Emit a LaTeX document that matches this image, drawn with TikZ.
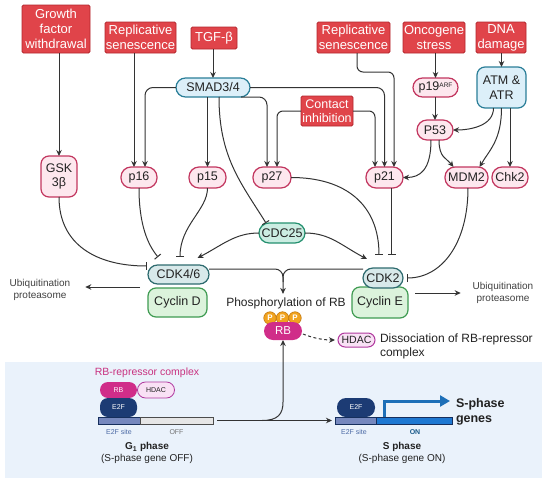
\documentclass[tikz,border=0pt]{standalone}
\usepackage{fontspec}
\setmainfont{Liberation Sans}
\usetikzlibrary{arrows.meta}
\definecolor{redF}{HTML}{E0444A}
\definecolor{redB}{HTML}{B3262D}
\definecolor{pinkF}{HTML}{FDE7EE}
\definecolor{pinkB}{HTML}{C2365F}
\definecolor{blueF}{HTML}{DCEFF9}
\definecolor{blueB}{HTML}{2A7E98}
\definecolor{tealF}{HTML}{CBEDE2}
\definecolor{tealB}{HTML}{24906F}
\definecolor{cdkF}{HTML}{D8E9EA}
\definecolor{cdkB}{HTML}{2E6B6F}
\definecolor{cycF}{HTML}{DCF3DC}
\definecolor{cycB}{HTML}{3F9B52}
\definecolor{rbF}{HTML}{D02D89}
\definecolor{pF}{HTML}{F1A31F}
\definecolor{pB}{HTML}{C27810}
\definecolor{hdF}{HTML}{F9E1F5}
\definecolor{hdB}{HTML}{B0399E}
\definecolor{navy}{HTML}{1C3B74}
\definecolor{panel}{HTML}{EAF2FB}
\definecolor{siteF}{HTML}{7688BE}
\definecolor{offF}{HTML}{E6E6E6}
\definecolor{onF}{HTML}{1E78D2}
\definecolor{bentC}{HTML}{1D6FB8}
\definecolor{conC}{HTML}{333333}
\definecolor{txt}{HTML}{222222}
\definecolor{magT}{HTML}{C8317F}
\definecolor{siteT}{HTML}{4C6AA5}
\definecolor{onT}{HTML}{1A5A8A}
\tikzset{
  lab/.style={font=\fontsize{12.5}{14.5}\selectfont, text=txt},
  redbox/.style={draw=redB, fill=redF, text=white, rounded corners=1.5pt, line width=0.9pt, align=center, font=\fontsize{13}{15}\selectfont},
  pinkn/.style={lab, draw=pinkB, fill=pinkF, line width=1.2pt, align=center},
  bluen/.style={lab, draw=blueB, fill=blueF, line width=1.2pt, align=center},
  tealn/.style={lab, draw=tealB, fill=tealF, line width=1.2pt},
  cdkn/.style={lab, draw=cdkB, fill=cdkF, line width=1.2pt},
  cycn/.style={lab, draw=cycB, fill=cycF, line width=1.2pt},
  con/.style={draw=conC, line width=1pt},
  arr/.style={con, -{Stealth[length=6pt,width=5.5pt]}},
  inh/.style={con, -{Bar[width=8pt]}},
  ubt/.style={align=center, font=\fontsize{10}{11.5}\selectfont, text=black!75},
  pcirc/.style={circle, minimum size=12.5pt, fill=pF, draw=pB, line width=0.6pt, text=white, font=\bfseries\fontsize{8}{8}\selectfont},
  smallt/.style={font=\fontsize{7}{8}\selectfont},
  dnabar/.style={draw=navy!80!black, line width=0.6pt, minimum height=7pt},
  e2fn/.style={fill=navy, text=white, font=\fontsize{7}{8}\selectfont}
}
\begin{document}
\begin{tikzpicture}[x=1pt,y=-1pt, every node/.append style={inner sep=0pt,outer sep=0pt}]
\useasboundingbox (0,0) rectangle (550,485);
\fill[panel] (5,362) rectangle (542,478);

% stimulus boxes
\node[redbox, minimum width=68, minimum height=48] (gfw) at (56,29) {Growth\\factor\\withdrawal};
\node[redbox, minimum width=71, minimum height=31] (rs1) at (140.5,37.5) {Replicative\\senescence};
\node[redbox, minimum width=46, minimum height=22] (tgf) at (214,38) {TGF-β};
\node[redbox, minimum width=73, minimum height=31] (rs2) at (353.5,37.5) {Replicative\\senescence};
\node[redbox, minimum width=62, minimum height=31] (onc) at (434,37.5) {Oncogene\\stress};
\node[redbox, minimum width=50, minimum height=31] (dna) at (501,37.5) {DNA\\damage};
\node[redbox, minimum width=52, minimum height=30, font=\fontsize{12.5}{14}\selectfont] (ci) at (327,111) {Contact\\inhibition};

% signalling nodes
\node[bluen, rounded corners=9.5, minimum width=74, minimum height=19] (smad) at (213,87.5) {SMAD3/4};
\node[bluen, rounded corners=8, minimum width=49, minimum height=41] (atm) at (501.5,87.5) {ATM \&\\ATR};
\node[pinkn, rounded corners=9.5, minimum width=45, minimum height=19] (p19) at (435.5,87.5) {p19\raisebox{3.5pt}{\fontsize{6.5}{7}\selectfont ARF}};
\node[pinkn, rounded corners=10, minimum width=36, minimum height=20] (p53) at (435,130) {P53};
\node[pinkn, rounded corners=8, minimum width=36, minimum height=41] (gsk) at (59,176.5) {GSK\\3β};
\node[pinkn, rounded corners=10, minimum width=36, minimum height=21] (p16) at (139,177.5) {p16};
\node[pinkn, rounded corners=10, minimum width=37, minimum height=21] (p15) at (207.5,177.5) {p15};
\node[pinkn, rounded corners=10, minimum width=38, minimum height=21] (p27) at (272,177.5) {p27};
\node[pinkn, rounded corners=10, minimum width=37, minimum height=21] (p21) at (384.5,177.5) {p21};
\node[pinkn, rounded corners=10, minimum width=43, minimum height=21] (mdm2) at (466.5,177.5) {MDM2};
\node[pinkn, rounded corners=10, minimum width=36, minimum height=21] (chk2) at (510,177.5) {Chk2};
\node[tealn, rounded corners=10, minimum width=46, minimum height=20] (cdc25) at (282,233) {CDC25};

% CDK / cyclin complexes
\node[cycn, rounded corners=8, minimum width=59, minimum height=29] (cycd) at (177.5,302.5) {Cyclin D};
\node[cdkn, rounded corners=9.5, minimum width=61, minimum height=19] (cdk46) at (178.5,274.5) {CDK4/6};
\node[cycn, rounded corners=8, minimum width=56, minimum height=31] (cyce) at (380,302.5) {Cyclin E};
\node[cdkn, rounded corners=10, minimum width=40, minimum height=20] (cdk2) at (383,278) {CDK2};

\node[ubt] (ub1) at (40,290) {Ubiquitination\\proteasome};
\node[ubt] (ub2) at (503,293) {Ubiquitination\\proteasome};

\node[lab, font=\fontsize{12}{14}\selectfont] (phos) at (286,303.5) {Phosphorylation of RB};
\node[pcirc] (pP1) at (270,318) {P};
\node[pcirc] (pP2) at (282.5,318) {P};
\node[pcirc] (pP3) at (295,318) {P};
\node[fill=rbF, rounded corners=9, minimum width=38, minimum height=18, text=white, font=\fontsize{11.5}{12}\selectfont] (rb) at (283,331) {RB};
\node[draw=hdB, fill=hdF, line width=1pt, rounded corners=7, minimum width=37, minimum height=14, font=\fontsize{10.5}{11}\selectfont, text=txt] (hdac) at (356.5,340) {HDAC};
\node[anchor=north west, align=left, font=\fontsize{12}{14}\selectfont, text=txt] (dis) at (380,334) {Dissociation of RB-repressor\\complex};

% connectors: top
\draw[arr] (gsk.north |- gfw.south) -- (gsk.north);
\draw[arr] ([xshift=-5]p16.north |- rs1.south) -- ([xshift=-5]p16.north);
\draw[arr] (smad.north |- tgf.south) -- (smad.north);
\draw[arr, rounded corners=8] (smad.west) -| ([xshift=6]p16.north);
\draw[arr] (p15.north |- smad.south) -- (p15.north);
\draw[inh] ([xshift=6]smad.south) .. controls +(0,60) and +(-25,-40) .. ([xshift=-16]cdc25.north);
\draw[arr, rounded corners=8] ([xshift=28]smad.south) -| ([xshift=-5]p27.north);
\draw[arr, rounded corners=8] (smad.east) -| (p21.north);
\draw[arr, rounded corners=6] ([xshift=3.5]rs2.south) -- ++(0,19) -| ([xshift=9.5]p21.north);
\draw[arr, rounded corners=6] (ci.west) -| ([xshift=5]p27.north);
\draw[arr, rounded corners=6] (ci.east) -| ([xshift=-9.5]p21.north);
\draw[arr] (p19.north |- onc.south) -- (p19.north);
\draw[arr] (atm.north |- dna.south) -- (atm.north);
\draw[arr] (p53.north |- p19.south) -- (p53.north);
\draw[arr] ([xshift=-8]atm.south) .. controls +(0,18) and +(17,0) .. (p53.east);
\draw[arr] (atm.south) .. controls +(0,32) and +(10,-17) .. ([xshift=13]mdm2.north);
\draw[arr] (chk2.north |- atm.south) -- (chk2.north);
\draw[arr] ([xshift=-4]p53.south) .. controls +(0,30) and +(17,0) .. (p21.east);
\draw[arr] ([xshift=4]p53.south) .. controls +(0,18) and +(-7,-9) .. ([xshift=-13]mdm2.north);

% connectors: onto CDKs
\draw[inh] (gsk.south) .. controls +(0,48) and +(-50,0) .. ([xshift=-1,yshift=8.5]cdk46.west);
\draw[inh] (p16.south) .. controls +(0,37) and +(-10,-12) .. ([xshift=-20.5,yshift=8]cdk46.north);
\draw[inh] (p15.south) .. controls +(0,22) and +(0,-32) .. ([xshift=1.5,yshift=8]cdk46.north);
\draw[arr] (cdc25.west) .. controls +(-24,0) and +(25,-13) .. ([xshift=19,yshift=7]cdk46.north);
\draw[arr] (cdc25.east) .. controls +(25,0) and +(-25,-13) .. ([xshift=-16,yshift=9]cdk2.north);
\draw[inh] (p27.east) .. controls +(55,0) and +(0,-50) .. ([xshift=-4,yshift=13]cdk2.north);
\draw[inh] ([xshift=7]p21.south) -- ([xshift=8.5,yshift=13]cdk2.north);
\draw[inh] ([xshift=1.5]mdm2.south) .. controls +(0,55) and +(35,0) .. ([xshift=4]cdk2.east);

% convergence on RB phosphorylation
\coordinate (jn) at (283,269);
\draw[arr, rounded corners=8, shorten >=4pt] ([yshift=5.5]cdk46.east) -| (jn |- phos.north);
\draw[con, rounded corners=8] ([yshift=9]cdk2.west) -| (283,282);

% degradation
\coordinate (u1) at (140,287);
\draw[arr] (u1) -- ([xshift=15]ub1.east |- u1);
\coordinate (u2) at (415,293);
\draw[arr] (u2) -- ([xshift=-12]ub2.west |- u2);

% HDAC release
\draw[arr, dashed, dash pattern=on 3pt off 2.5pt] ([xshift=1,yshift=-3]rb.east) .. controls +(10,4) and +(-12,0) .. ([xshift=-3]hdac.west);

% bottom panel: G1
\node[font=\fontsize{10.5}{12}\selectfont, text=magT] (rbct) at (147,373) {RB-repressor complex};
\node[fill=rbF, rounded corners=8, minimum width=37, minimum height=16, text=white, font=\fontsize{7}{8}\selectfont] (rbs) at (118.5,390) {RB};
\node[draw=hdB, fill=hdF, line width=0.8pt, rounded corners=8, minimum width=37, minimum height=16, font=\fontsize{7}{8}\selectfont, text=txt] (hds) at (156,390) {HDAC};
\node[e2fn, rounded corners=8, minimum width=37, minimum height=19] (e2fa) at (118.5,407.5) {E2F};
\node[dnabar, fill=siteF, minimum width=42] (site1) at (119,420.5) {};
\node[dnabar, draw=black!70, fill=offF, minimum width=73] (off1) at (176.5,420.5) {};
\node[smallt, text=siteT] (ls1) at (119,432) {E2F site};
\node[smallt, text=black!55] (loff) at (176.5,432) {OFF};
\node[align=center, font=\fontsize{10}{12}\selectfont, text=txt] (g1t) at (147,453) {\textbf{G\textsubscript{1} phase}\\(S-phase gene OFF)};

% bottom panel: S
\node[e2fn, rounded corners=9, minimum width=38, minimum height=19] (e2fb) at (356,407.5) {E2F};
\node[dnabar, fill=siteF, minimum width=41] (site2) at (355.5,420.5) {};
\node[dnabar, fill=onF, minimum width=76] (on2) at (414,420.5) {};
\draw[draw=bentC, line width=3pt, line join=miter, -{Triangle[length=10pt,width=11pt]}] ([xshift=8]on2.north west) -- ++(0,-16) -- ++(66,0);
\node[anchor=west, align=left, font=\bfseries\fontsize{12.5}{15}\selectfont, text=txt] (sg) at (456,411.5) {S-phase\\genes};
\node[smallt, text=siteT] (ls2) at (354,432) {E2F site};
\node[smallt, text=onT, font=\bfseries\fontsize{7}{8}\selectfont] (lon) at (415,432) {ON};
\node[align=center, font=\fontsize{10}{12}\selectfont, text=txt] (st) at (402,453) {\textbf{S phase}\\(S-phase gene ON)};

% transition arrows
\draw[arr] ([xshift=4]off1.east) -- ([xshift=-3]site2.west);
\coordinate (br) at (262,420.5);
\draw[arr] (br) .. controls (278,420.5) and (283,414) .. (283,402) -- (rb.south);
\end{tikzpicture}
\end{document}
